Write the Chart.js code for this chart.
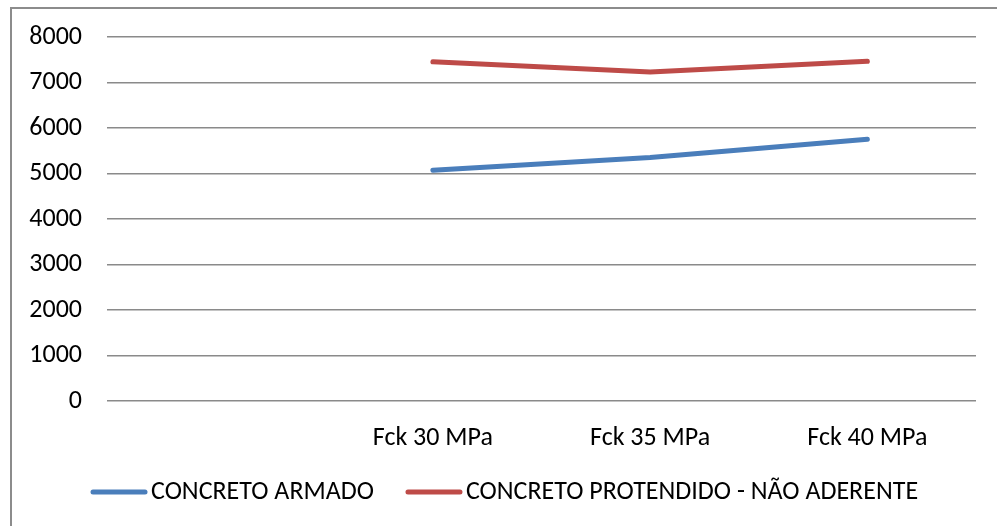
<!DOCTYPE html>
<html>
<head>
<meta charset="utf-8">
<script src="https://cdn.jsdelivr.net/npm/chart.js@4/dist/chart.umd.min.js"></script>
<style>
  html, body { margin: 0; padding: 0; background: #fff; }
  #wrap { position: relative; width: 997px; height: 526px; overflow: hidden; }
  #frame { position: absolute; left: 10px; top: 7px; width: 1100px; height: 600px; border: 2px solid #8c8c8c; box-sizing: border-box; }
  canvas { position: absolute; left: 0; top: 0; }
</style>
</head>
<body>
<div id="wrap">
  <div id="frame"></div>
  <canvas id="chart" width="997" height="526"></canvas>
</div>
<script>
// Data
const categories = ['', 'Fck 30 MPa', 'Fck 35 MPa', 'Fck 40 MPa'];
const armado = [null, 5070, 5350, 5755];
const protendido = [null, 7455, 7230, 7465];
const seriesNames = ['CONCRETO ARMADO', 'CONCRETO PROTENDIDO - NÃO ADERENTE'];
const yTicks = [0, 1000, 2000, 3000, 4000, 5000, 6000, 7000, 8000];

const FONT = "'Carlito', 'Open Sans', sans-serif";
const FONT_SIZE = 26;
const BLUE = '#4a7ebb';
const RED = '#be4b48';

// Excel style legend drawn under the axis
const lineLegend = {
    id: 'lineLegend',
    afterDraw(chart) {
        const ctx = chart.ctx;
        const sets = chart.data.datasets;
        const lineLen = 56, gap = 4, itemGap = 32;
        ctx.save();
        ctx.font = FONT_SIZE + 'px ' + FONT;
        const widths = sets.map(ds => lineLen + gap + ctx.measureText(ds.label).width);
        let x = 91;
        const y = 492;
        sets.forEach((ds, i) => {
            ctx.strokeStyle = ds.borderColor;
            ctx.lineWidth = 5;
            ctx.lineCap = 'round';
            ctx.beginPath();
            ctx.moveTo(x + 2, y);
            ctx.lineTo(x + lineLen - 2, y);
            ctx.stroke();
            ctx.fillStyle = '#000';
            ctx.textBaseline = 'middle';
            ctx.fillText(ds.label, x + lineLen + gap, y);
            x += widths[i] + itemGap;
        });
        ctx.restore();
    }
};

const ctx = document.getElementById('chart').getContext('2d');
new Chart(ctx, {
    type: 'line',
    data: {
        labels: categories,
        datasets: [
            { label: seriesNames[0], data: armado, borderColor: BLUE, backgroundColor: BLUE },
            { label: seriesNames[1], data: protendido, borderColor: RED, backgroundColor: RED }
        ]
    },
    options: {
        responsive: false,
        animation: false,
        layout: { padding: { top: 37, right: 21, bottom: 0, left: 0 } },
        elements: {
            line: { borderWidth: 5, tension: 0, borderCapStyle: 'round', borderJoinStyle: 'round' },
            point: { radius: 0, hoverRadius: 0 }
        },
        plugins: {
            legend: { display: false },
            tooltip: { enabled: false }
        },
        scales: {
            x: {
                offset: true,
                grid: { display: false },
                border: { display: false },
                ticks: { color: '#000', font: { family: FONT, size: FONT_SIZE }, padding: 14, maxRotation: 0 },
                afterFit(scale) { scale.height = 125; scale.paddingLeft = 0; scale.paddingRight = 0; }
            },
            y: {
                min: 0,
                max: 8000,
                afterBuildTicks(scale) { scale.ticks = yTicks.map(v => ({ value: v })); },
                grid: { color: '#8a8a8a', lineWidth: 1.5, drawTicks: false },
                border: { display: false },
                ticks: {
                    color: '#000',
                    font: { family: FONT, size: FONT_SIZE },
                    padding: 25,
                    callback: v => String(v)
                },
                afterFit(scale) { scale.width = 107; scale.paddingTop = 0; scale.paddingBottom = 0; }
            }
        }
    },
    plugins: [lineLegend]
});
</script>
</body>
</html>
